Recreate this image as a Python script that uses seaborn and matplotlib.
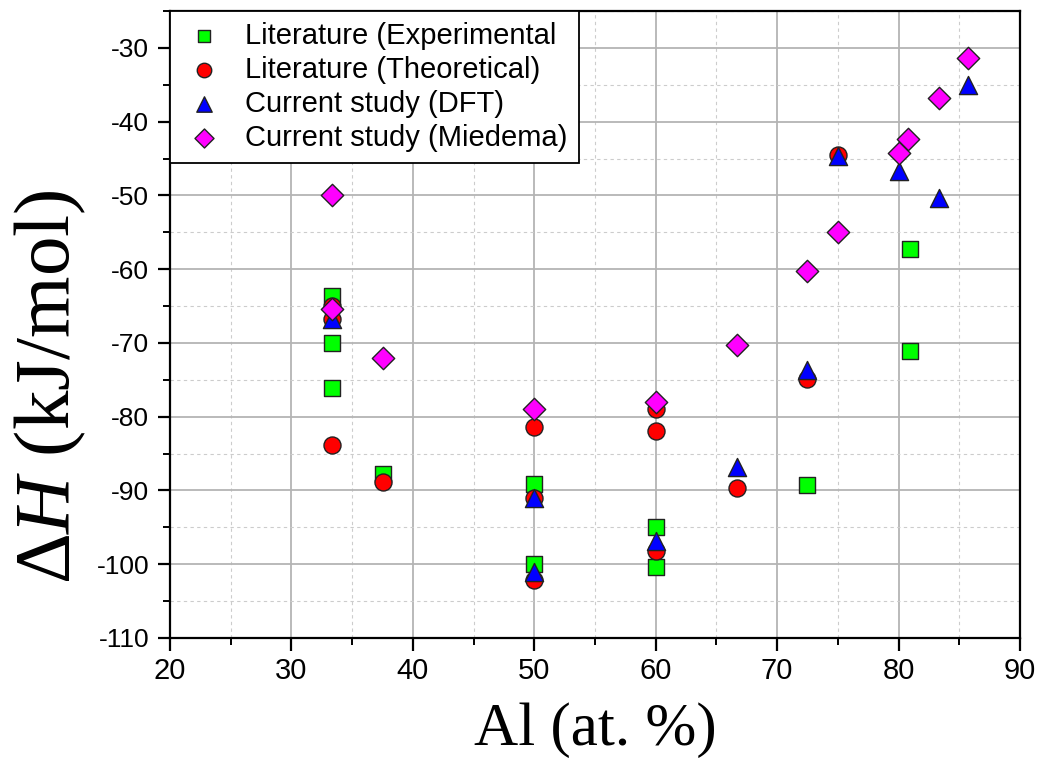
import matplotlib
matplotlib.use("Agg")
import matplotlib.pyplot as plt
import seaborn as sns
import pandas as pd
from matplotlib.ticker import MultipleLocator
from matplotlib import font_manager

# Data
exp_x = [33.3, 33.3, 33.3, 37.5, 50, 50, 60, 60, 72.5, 80.9, 80.9]
exp_y = [-63.6, -70.0, -76.1, -87.8, -89.1, -100.0, -95.0, -100.4, -89.3, -57.3, -71.1]

theo_x = [33.3, 33.3, 33.3, 37.5, 50, 50, 50, 60, 60, 60, 66.7, 72.5, 75]
theo_y = [-65.0, -66.8, -83.8, -88.9, -81.4, -91.0, -102.2, -79.0, -82.0, -98.2, -89.6, -74.9, -44.5]

dft_x = [33.3, 50, 50, 60, 66.7, 72.5, 75, 80, 83.3, 85.7]
dft_y = [-66.7, -91.0, -101.0, -96.8, -86.8, -73.7, -44.6, -46.7, -50.3, -35.0]

mied_x = [33.3, 33.3, 37.5, 50, 60, 66.7, 72.5, 75, 80, 80.8, 83.3, 85.7]
mied_y = [-50.0, -65.4, -72.1, -78.9, -78.0, -70.3, -60.2, -55.0, -44.2, -42.4, -36.8, -31.4]

labels = ["Literature (Experimental", "Literature (Theoretical)",
          "Current study (DFT)", "Current study (Miedema)"]

sns.set_theme(style="white")
plt.rcParams["axes.unicode_minus"] = False
plt.rcParams["font.family"] = ["Liberation Sans", "DejaVu Sans"]
plt.rcParams["text.color"] = "black"
plt.rcParams["axes.labelcolor"] = "black"
plt.rcParams["xtick.color"] = "black"
plt.rcParams["ytick.color"] = "black"
plt.rcParams["mathtext.fontset"] = "custom"
plt.rcParams["mathtext.rm"] = "Liberation Serif"
plt.rcParams["mathtext.it"] = "Liberation Serif:italic"

installed = {f.name for f in font_manager.fontManager.ttflist}
narrow = ["Liberation Sans Narrow", "Liberation Sans"] if "Liberation Sans Narrow" in installed else ["Liberation Sans"]

frames = []
for lab, xs, ys in zip(labels, [exp_x, theo_x, dft_x, mied_x], [exp_y, theo_y, dft_y, mied_y]):
    frames.append(pd.DataFrame({"Al": xs, "dH": ys, "series": lab}))
df = pd.concat(frames, ignore_index=True)

palette = dict(zip(labels, ["#00ff00", "#ff0000", "#0000ff", "#ff00ff"]))
markers = dict(zip(labels, ["s", "o", "^", "D"]))
sizes = dict(zip(labels, [120, 150, 170, 130]))

fig = plt.figure(figsize=(10.44, 7.63), dpi=100)
ax = fig.add_axes([170/1044, 1 - 638/763, (1020-170)/1044, (638-11)/763])

for i, lab in enumerate(labels):
    sub = df[df["series"] == lab]
    sns.scatterplot(data=sub, x="Al", y="dH", ax=ax, color=palette[lab],
                    marker=markers[lab], s=sizes[lab], edgecolor="#222222",
                    linewidth=1.0, label=lab, zorder=3 + i)

ax.set_xlim(20, 90)
ax.set_ylim(-110, -25)
ax.xaxis.set_major_locator(MultipleLocator(10))
ax.xaxis.set_minor_locator(MultipleLocator(5))
ax.yaxis.set_major_locator(MultipleLocator(10))
ax.yaxis.set_minor_locator(MultipleLocator(5))
ax.grid(which="major", color="#b4b4b4", linestyle="-", linewidth=1.3)
ax.grid(which="minor", color="#cccccc", linestyle=(0, (3, 3)), linewidth=0.8)
ax.set_axisbelow(True)

for sp in ax.spines.values():
    sp.set_color("black")
    sp.set_linewidth(1.6)

ax.tick_params(axis="both", which="major", direction="out", length=9, width=1.6,
               color="black", left=True, bottom=True, top=False, right=False)
ax.tick_params(axis="both", which="minor", direction="out", length=5, width=1.4,
               color="black", left=True, bottom=True, top=False, right=False)
ax.tick_params(axis="y", which="major", labelsize=19, pad=6, labelcolor="black")
ax.tick_params(axis="x", which="major", labelsize=21, pad=5, labelcolor="black")
for t in ax.get_xticklabels():
    t.set_family(narrow)

ax.set_xlabel("Al (at. %)", fontsize=44, family=["Liberation Serif", "DejaVu Serif"],
              labelpad=12, color="black")
ax.set_ylabel(r"$\Delta H$ (kJ/mol)", fontsize=57, family=["Liberation Serif", "DejaVu Serif"],
              color="black")
ax.yaxis.set_label_coords(-0.097, 0.40)

leg = ax.legend(loc="upper left", borderaxespad=0, fancybox=False, framealpha=1,
                edgecolor="black", fontsize=21, handletextpad=0.6, labelspacing=0.2,
                borderpad=0.38, markerscale=0.85, handlelength=1.6)
leg.get_frame().set_linewidth(1.3)
for t in leg.get_texts():
    t.set_color("black")

fig.savefig("out.png", dpi=100)
